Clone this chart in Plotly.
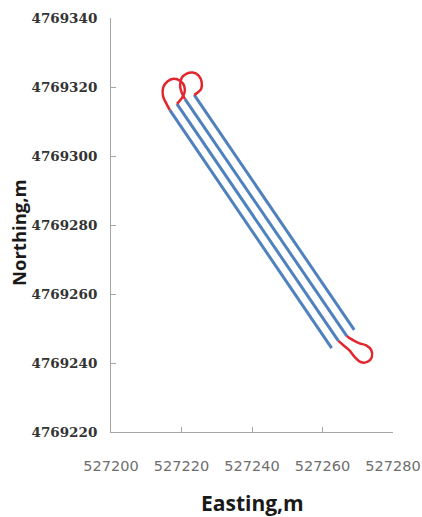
import plotly.graph_objects as go

# Survey track: four parallel survey lines (blue) joined by turn loops (red)
line1_east = [527216.7, 527262.6]
line1_north = [4769313.3, 4769244.3]
line2_east = [527218.7, 527264.5]
line2_north = [4769315.1, 4769246.4]
line3_east = [527221.0, 527266.9]
line3_north = [4769316.5, 4769247.8]
line4_east = [527223.6, 527269.0]
line4_north = [4769317.7, 4769249.6]

# Turn between line 1 and line 2 (north end)
turn1_east = [527216.7, 527215.6, 527214.75, 527214.8, 527216.0, 527217.8,
              527219.6, 527220.8, 527220.8, 527219.9, 527218.7]
turn1_north = [4769313.3, 4769315.4, 4769317.4, 4769319.8, 4769321.6, 4769322.4,
               4769321.8, 4769320.2, 4769318.2, 4769316.5, 4769315.1]

# Turn between line 2 and line 3 (south end)
turn2_east = [527264.5, 527266.1, 527267.7, 527269.1, 527270.8, 527272.7,
              527274.0, 527273.8, 527272.4, 527270.5, 527268.9, 527267.7, 527266.9]
turn2_north = [4769246.4, 4769245.0, 4769243.6, 4769241.8, 4769240.3, 4769240.3,
               4769241.7, 4769243.8, 4769245.1, 4769245.7, 4769246.5, 4769247.2, 4769247.8]

# Turn between line 3 and line 4 (north end)
turn3_east = [527221.0, 527220.0, 527219.6, 527220.1, 527221.5, 527223.2,
              527224.8, 527225.7, 527225.6, 527224.6, 527223.6]
turn3_north = [4769316.5, 4769318.5, 4769320.6, 4769322.7, 4769323.9, 4769324.2,
               4769323.4, 4769321.5, 4769319.5, 4769318.4, 4769317.7]

x_ticks = [527200, 527220, 527240, 527260, 527280]
y_ticks = [4769220, 4769240, 4769260, 4769280, 4769300, 4769320, 4769340]

LINE_BLUE = "#4F81BD"
TURN_RED = "#E3262E"
AXIS_GREY = "#A6A6A6"

fig = go.Figure()

for ex, no in [(line1_east, line1_north), (line2_east, line2_north),
               (line3_east, line3_north), (line4_east, line4_north)]:
    fig.add_trace(go.Scatter(x=ex, y=no, mode="lines",
                             line=dict(color=LINE_BLUE, width=3),
                             hoverinfo="skip"))

for ex, no in [(turn1_east, turn1_north), (turn2_east, turn2_north),
               (turn3_east, turn3_north)]:
    fig.add_trace(go.Scatter(x=ex, y=no, mode="lines",
                             line=dict(color=TURN_RED, width=2.5, shape="spline"),
                             hoverinfo="skip"))

fig.update_layout(
    width=422, height=517,
    autosize=False,
    margin=dict(l=111, r=29, t=18, b=85, autoexpand=False),
    paper_bgcolor="white", plot_bgcolor="white",
    showlegend=False,
    xaxis=dict(
        range=[527200, 527280], automargin=False,
        tickvals=x_ticks, ticktext=[str(v) for v in x_ticks],
        ticks="inside", ticklen=5, tickcolor=AXIS_GREY,
        showline=True, linecolor=AXIS_GREY, linewidth=1,
        showgrid=False, zeroline=False,
        tickfont=dict(family="DejaVu Sans", size=14.5, color="#6E6E6E"),
        ticklabelstandoff=21,
    ),
    yaxis=dict(
        range=[4769220, 4769340], automargin=False,
        tickvals=y_ticks, ticktext=[str(v) for v in y_ticks],
        ticks="inside", ticklen=5, tickcolor=AXIS_GREY,
        showline=True, linecolor=AXIS_GREY, linewidth=1,
        showgrid=False, zeroline=False,
        tickfont=dict(family="DejaVu Serif", size=13.5, color="#333333", weight="bold"),
        ticklabelstandoff=10,
    ),
    annotations=[
        dict(text="Easting,m", xref="paper", yref="paper", x=0.5, y=-0.1715,
             xanchor="center", yanchor="middle", showarrow=False,
             font=dict(family="Open Sans", size=21, color="#1A1A1A", weight="bold")),
        dict(text="Northing,m", xref="paper", yref="paper", x=-0.3298, y=0.483,
             xanchor="center", yanchor="middle", showarrow=False, textangle=-90,
             font=dict(family="Open Sans", size=18.5, color="#1A1A1A", weight="bold")),
    ],
)

fig.write_html("out.html")
